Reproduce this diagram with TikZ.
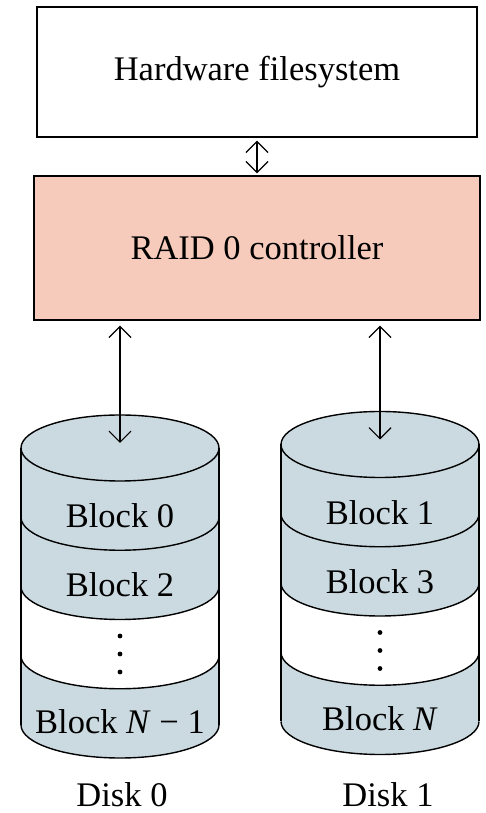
\documentclass[tikz,border=0pt]{standalone}
\usepackage{fontspec}
\setmainfont{Liberation Serif}
\usetikzlibrary{arrows.meta}

\definecolor{ctrlfill}{RGB}{246,203,187}
\definecolor{diskfill}{RGB}{203,218,225}

% one disk: name, centre x, centre y of the top ellipse
\newcommand\diskstack[3]{%
  \begin{scope}[shift={(#2,#3)}]
    \fill[diskfill] (-99,0) -- (-99,-277)
      arc[start angle=180,end angle=360,x radius=99,y radius=33]
      -- (99,0) arc[start angle=0,end angle=180,x radius=99,y radius=33] -- cycle;
    \fill[white] (-99,-138.5)
      arc[start angle=180,end angle=360,x radius=99,y radius=33]
      -- (99,-207.75) arc[start angle=0,end angle=-180,x radius=99,y radius=33] -- cycle;
    \draw[edge] (-99,0) -- (-99,-277) (99,0) -- (99,-277);
    \draw[edge] (0,0) ellipse[x radius=99,y radius=33];
    \foreach \k in {1,...,4}
      \draw[edge] (-99,-69.25*\k) arc[start angle=180,end angle=360,x radius=99,y radius=33];
    \foreach \d in {0,1,2}
      \fill (0,-188-18*\d) circle (2.4);
    \coordinate (#1) at (0,0);
  \end{scope}}

\begin{document}
\begin{tikzpicture}[x=1pt,y=1pt,
    edge/.style={line width=1.4pt},
    box/.style={draw, edge, inner sep=0pt},
    lbl/.style={inner sep=0pt, font=\fontsize{34.5}{40}\selectfont},
    link/.style={line width=1.2pt,
      {Straight Barb[length=11pt,width=22pt]}-{Straight Barb[length=11pt,width=22pt]}}]
  \useasboundingbox (0,0) rectangle (485,813);

  % host side
  \node[box, fill=white, minimum width=440pt, minimum height=130pt,
        lbl] (hw) at (257,741) {Hardware filesystem};
  \node[box, fill=ctrlfill, minimum width=446pt, minimum height=144pt,
        lbl] (raid) at (257,565) {RAID 0 controller};

  % the two disks
  \diskstack{d0}{120}{365}
  \diskstack{d1}{380}{368.5}

  \node[lbl] (b0) at (120,297) {Block 0};
  \node[lbl] (b2) at (120,228) {Block 2};
  \node[lbl] (bn1) at (120,91) {Block \textit{N} − 1};
  \node[lbl] (b1) at (380,300.5) {Block 1};
  \node[lbl] (b3) at (380,231.5) {Block 3};
  \node[lbl] (bn) at (380,94.5) {Block \textit{N}};

  \node[lbl] (disk0) at (122,18) {Disk 0};
  \node[lbl] (disk1) at (388,18) {Disk 1};

  % connections
  \draw[link, shorten <=3pt, shorten >=2pt] (hw) -- (raid);
  \draw[link, shorten <=5pt, shorten >=5pt] (raid.south -| d0) -- (d0);
  \draw[link, shorten <=5pt, shorten >=5pt] (raid.south -| d1) -- (d1);
\end{tikzpicture}
\end{document}
